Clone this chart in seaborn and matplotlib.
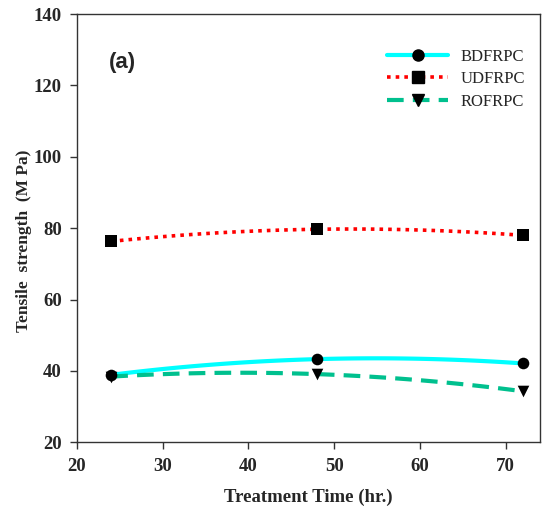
import matplotlib
matplotlib.use("Agg")
import matplotlib.pyplot as plt
from matplotlib.lines import Line2D
import seaborn as sns
import pandas as pd

time_hr = [24, 48, 72]
bdfrpc = [38.9, 43.3, 42.1]
udfrpc = [76.3, 79.7, 78.0]
rofrpc = [38.4, 39.1, 34.3]
series_names = ["BDFRPC", "UDFRPC", "ROFRPC"]
x_ticks = [20, 30, 40, 50, 60, 70]
y_ticks = [20, 40, 60, 80, 100, 120, 140]

sns.set_style("ticks")
plt.rcParams["font.family"] = ["Liberation Serif", "DejaVu Serif"]

fig = plt.figure(figsize=(5.42, 5.24), dpi=100)
ax = fig.add_axes([0.142, 0.156, 0.854, 0.817])

styles = {
    "BDFRPC": dict(color="#00FFFF", ls="-", lw=3.0, marker="o"),
    "UDFRPC": dict(color="#FF0000", ls=(0, (1, 1.4)), lw=2.6, marker="s"),
    "ROFRPC": dict(color="#00C08E", ls=(0, (4, 2.2)), lw=3.0, marker="v"),
}
values = {"BDFRPC": bdfrpc, "UDFRPC": udfrpc, "ROFRPC": rofrpc}

handles = []
for name in series_names:
    st = styles[name]
    df = pd.DataFrame({"t": time_hr, "v": values[name]})
    sns.regplot(data=df, x="t", y="v", order=2, ci=None, scatter=False, ax=ax,
                line_kws=dict(color=st["color"], linestyle=st["ls"], lw=st["lw"],
                              solid_capstyle="butt", dash_capstyle="butt"))
    sns.scatterplot(data=df, x="t", y="v", marker=st["marker"], color="black",
                    s=70, edgecolor="black", linewidth=0, ax=ax, zorder=5)
    handles.append(Line2D([0], [0], color=st["color"], linestyle=st["ls"], lw=st["lw"],
                          marker=st["marker"], markerfacecolor="black",
                          markeredgecolor="black", markersize=8))

ax.set_xlim(20, 74)
ax.set_ylim(20, 140)
ax.set_xticks(x_ticks)
ax.set_yticks(y_ticks)
for s in ax.spines.values():
    s.set_visible(True)
    s.set_linewidth(1.0)
    s.set_color("#333333")
ax.tick_params(direction="out", length=5, width=1, labelsize=13.5, pad=6, color="#333333")
for lab in ax.get_xticklabels() + ax.get_yticklabels():
    lab.set_fontweight("bold")

ax.set_xlabel("Treatment Time (hr.)", fontsize=13.5, fontweight="bold", labelpad=10)
ax.set_ylabel("Tensile  strength  (M Pa)", fontsize=12.5, fontweight="bold", labelpad=6)
ax.yaxis.set_label_coords(-0.097, 0.47)

ax.text(0.068, 0.875, "(a)", transform=ax.transAxes, fontsize=16, fontweight="bold",
        family=["Liberation Sans", "DejaVu Sans"])

leg = ax.legend(handles, series_names, loc="upper left", bbox_to_anchor=(0.655, 0.935),
                frameon=False, fontsize=12, handlelength=3.7, labelspacing=0.4,
                handletextpad=0.7, borderaxespad=0)

fig.savefig("out.png", dpi=100)
